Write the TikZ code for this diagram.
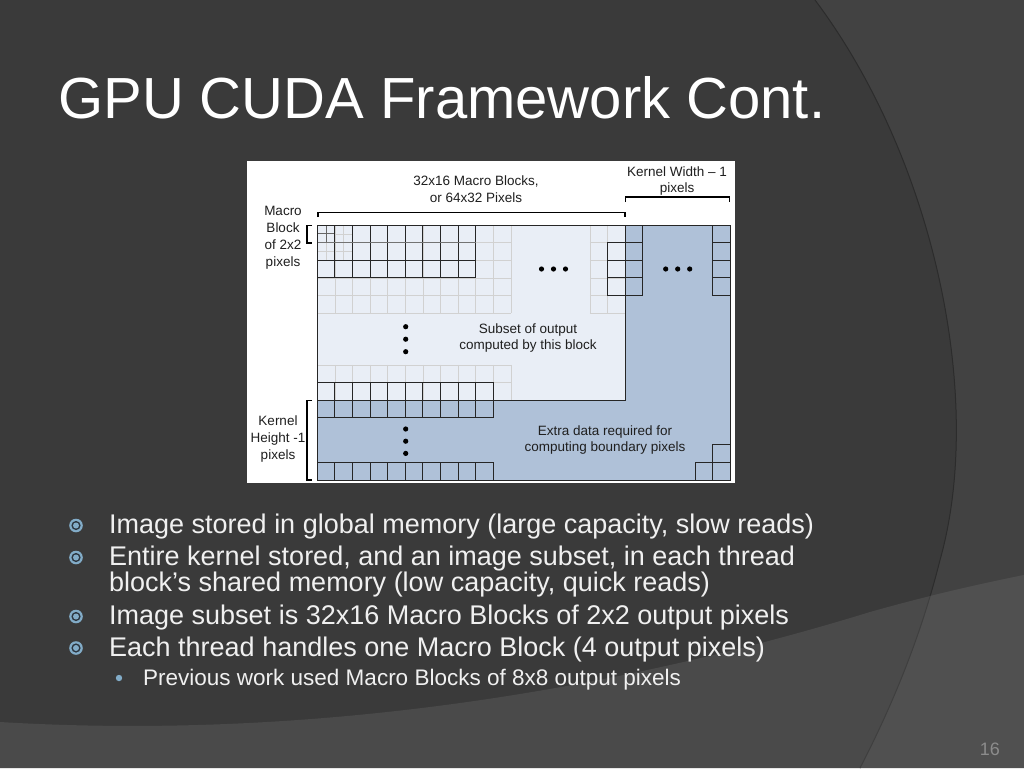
\documentclass[tikz,border=0pt]{standalone}
\usepackage{fontspec}
\setmainfont{Liberation Sans}
\begin{document}
\begin{tikzpicture}[x=1pt,y=-1pt,
  faint/.style={draw=black!18,line width=0.6},
  darkline/.style={draw=black!85,line width=0.9},
  brk/.style={draw=black,line width=1.8},
  dtext/.style={font=\fontsize{13.5}{16.5}\selectfont,text=black!88,align=center,inner sep=0pt},
  btext/.style={font=\fontsize{27}{32}\selectfont,text=white!94!black,anchor=base west,inner sep=0pt},
  stext/.style={font=\fontsize{22.5}{26}\selectfont,text=white!94!black,anchor=base west,inner sep=0pt},
  dotf/.style={fill=black}]
\definecolor{bgdark}{HTML}{3A3A3A}
\definecolor{bgright}{HTML}{424242}
\definecolor{bgband}{HTML}{4A4A4A}
\definecolor{bgband2}{HTML}{505050}
\definecolor{lightbox}{HTML}{E9EEF6}
\definecolor{bluebox}{HTML}{AFC1D8}
\definecolor{bul}{HTML}{82ACC8}
\definecolor{buldark}{HTML}{2C3640}
\useasboundingbox (0,0) rectangle (1024,768);
% background
\fill[bgright] (0,0) rectangle (1024,768);
\fill[bgdark] (0,0) -- (815,0) .. controls (935,160) and (985,400) .. (940,560) .. controls (920,640) and (890,710) .. (860,768) -- (0,768) -- cycle;
\draw[black!25!bgdark,line width=1.0] (815,0) .. controls (935,160) and (985,400) .. (940,560) .. controls (920,640) and (890,710) .. (860,768);
\begin{scope}
\clip (0,722) .. controls (300,740) and (600,695) .. (870,612) .. controls (930,595) and (980,584) .. (1024,575) -- (1024,768) -- (0,768) -- cycle;
\fill[bgband] (0,0) rectangle (1024,768);
\fill[bgband2] (815,0) .. controls (935,160) and (985,400) .. (940,560) .. controls (920,640) and (890,710) .. (860,768) -- (1024,768) -- (1024,0) -- cycle;
\draw[black!15!bgband,line width=1.0] (815,0) .. controls (935,160) and (985,400) .. (940,560) .. controls (920,640) and (890,710) .. (860,768);
\end{scope}
% title
\node[font=\fontsize{58}{64}\selectfont,text=white,anchor=base west,inner sep=0pt] (title) at (58,118) {GPU CUDA Framework Cont.};
% diagram frame
\fill[white] (247,161) rectangle (735,483);
\filldraw[fill=bluebox,darkline] (317.3,225) rectangle (730,480);
\filldraw[fill=lightbox,darkline] (317.3,225) rectangle (625,400);
% faint grid top-left
\foreach \i in {1,...,11} \draw[faint] ({317.3+17.6*\i},225) -- ({317.3+17.6*\i},313);
\foreach \j in {1,...,5} \draw[faint] (317.3,{225+17.6*\j}) -- (510.9,{225+17.6*\j});
\foreach \v in {343.7} \draw[faint] (\v,225) -- (\v,260.2);
\foreach \v in {251.4} \draw[faint] (317.3,\v) -- (352.5,\v);
\draw[draw=black!60,line width=0.7] (326.1,225) -- (326.1,242.6) (317.3,233.8) -- (334.9,233.8);
\draw[faint] (326.1,242.6) -- (326.1,260.2) (334.9,233.8) -- (352.5,233.8);
% dark grid top-left
\foreach \i in {0,...,9} \draw[darkline] ({317.3+17.6*\i},225) -- ({317.3+17.6*\i},277.8);
\draw[draw=black!55,line width=1.3] (317.3,242.6) -- (475.7,242.6);
\draw[darkline] (317.3,260.2) -- (475.7,260.2);
\draw[darkline] (317.3,277.8) -- (475.7,277.8);
% faint cells near right of light box
\foreach \v in {589.8,607.4} \draw[faint] (\v,225) -- (\v,313);
\foreach \j in {1,...,5} \draw[faint] (589.8,{225+17.6*\j}) -- (625,{225+17.6*\j});
\foreach \j in {1,2,3} \draw[darkline] (607.4,{225+17.6*\j}) rectangle (625,{242.6+17.6*\j});
% faint/dark rows at bottom of light box
\foreach \i in {1,...,11} \draw[faint] ({317.3+17.6*\i},364.8) -- ({317.3+17.6*\i},400);
\draw[faint] (317.3,364.8) -- (510.9,364.8);
\draw[faint] (493.3,382.4) -- (510.9,382.4);
\foreach \i in {0,...,9} \draw[darkline] ({317.3+17.6*\i},382.4) rectangle ({334.9+17.6*\i},400);
% blue region cells
\foreach \i in {0,...,9} {
  \draw[darkline] ({317.3+17.6*\i},400) rectangle ({334.9+17.6*\i},417.6);
  \draw[darkline] ({317.3+17.6*\i},462.4) rectangle ({334.9+17.6*\i},480);
}
\foreach \j in {0,...,3} {
  \draw[darkline] (625,{225+17.6*\j}) rectangle (642.6,{242.6+17.6*\j});
  \draw[darkline] (712.5,{225+17.6*\j}) rectangle (730,{242.6+17.6*\j});
}
\draw[darkline] (712.5,444.9) rectangle (730,462.4);
\draw[darkline] (695,462.4) rectangle (712.5,480);
\draw[darkline] (712.5,462.4) rectangle (730,480);
\draw[darkline] (317.3,225) rectangle (730,480);
\draw[darkline] (625,225) -- (625,400) -- (317.3,400);
% dots
\foreach \x in {541.5,553.5,565.5} \fill[dotf] (\x,269) circle (2.6);
\foreach \x in {665.7,677.7,689.7} \fill[dotf] (\x,269) circle (2.6);
\foreach \y in {326.7,339.2,351.7} \fill[dotf] (405.7,\y) circle (2.6);
\foreach \y in {429,441.2,453.4} \fill[dotf] (405.7,\y) circle (2.6);
% brackets
\draw[brk] (317.7,217) -- (317.7,212.5) -- (625,212.5) -- (625,217);
\draw[brk] (625.5,202) -- (625.5,197.3) -- (729.5,197.3) -- (729.5,202);
\draw[brk] (312,225.5) -- (307,225.5) -- (307,243) -- (312,243);
\draw[brk] (312,400.5) -- (307,400.5) -- (307,480) -- (312,480);
% diagram texts
\node[dtext] (mb) at (476,189) {32x16 Macro Blocks,\\or 64x32 Pixels};
\node[dtext] (kw) at (677,181) {Kernel Width -- 1\\pixels};
\node[dtext,font=\fontsize{13.5}{17}\selectfont] (mbl) at (283,237.5) {Macro\\Block\\of 2x2\\pixels};
\node[dtext,font=\fontsize{13.5}{17}\selectfont] (kh) at (278,439) {Kernel\\Height -1\\pixels};
\node[dtext] (sub) at (528,338) {Subset of output\\computed by this block};
\node[dtext] (extra) at (605,440) {Extra data required for\\computing boundary pixels};
% bullets
\foreach \y [count=\k] in {525.5,557.5,616.5,648} {
  \fill[bul] (76,\y) circle (6.8);
  \fill[buldark] (76,\y) circle (4.6);
  \fill[bul] (76,\y) circle (3.0);
}
\node[btext] (b1) at (109,533.5) {Image stored in global memory (large capacity, slow reads)};
\node[btext,anchor=north west,align=left,font=\fontsize{27}{25}\selectfont] (b2) at (109,545.5) {Entire kernel stored, and an image subset, in each thread\\block’s shared memory (low capacity, quick reads)};
\node[btext] (b3) at (109,624.5) {Image subset is 32x16 Macro Blocks of 2x2 output pixels};
\node[btext] (b4) at (109,656) {Each thread handles one Macro Block (4 output pixels)};
\fill[bul] (119,678) circle (3.2);
\node[stext] (s1) at (143,685) {Previous work used Macro Blocks of 8x8 output pixels};
\node[font=\fontsize{18}{20}\selectfont,text=black!45!white,anchor=base east,inner sep=0pt] (num) at (1000,755) {16};
\end{tikzpicture}
\end{document}
